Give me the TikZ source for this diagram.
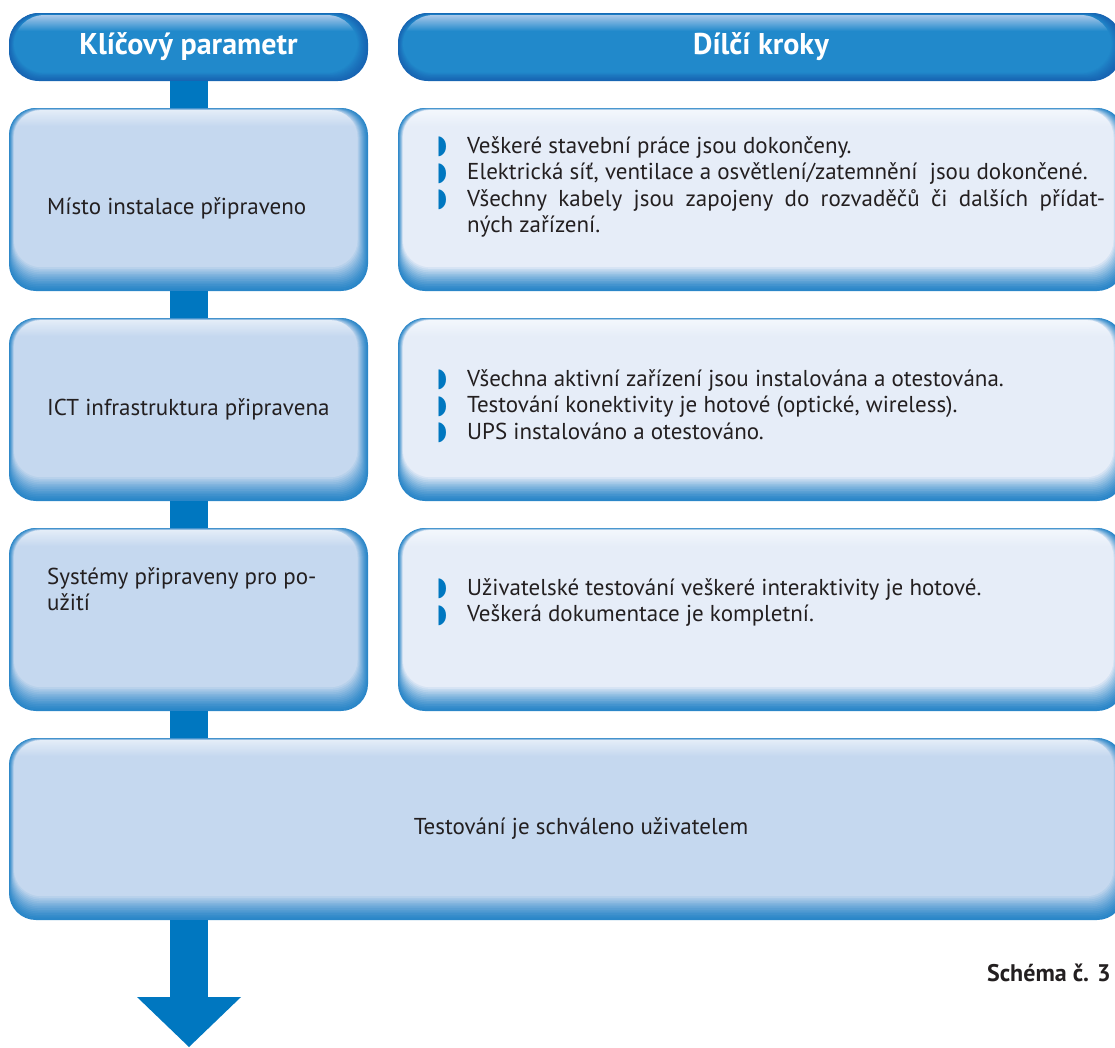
\documentclass[tikz,border=0pt]{standalone}
\usepackage{fontspec}
\usepackage{graphicx}
\setmainfont{PT Sans}
\newfontfamily\symfont{DejaVu Sans}
\setlength\parindent{0pt}
\definecolor{barblue}{HTML}{0077C0}
\definecolor{edgeblue}{HTML}{2A86C8}
\definecolor{lightA}{HTML}{C5D8EF}
\definecolor{lightB}{HTML}{E6EDF8}
\definecolor{hlA}{HTML}{E4EDF8}
\definecolor{hlB}{HTML}{F3F7FC}
\definecolor{hdbody}{HTML}{2189CB}
\definecolor{hddark}{HTML}{1765B3}
\definecolor{hdhl}{HTML}{A8C8EA}
\definecolor{txt}{HTML}{231F20}
\newcommand\bevbox[6]{%
  \foreach \i in {0,...,14}{%
    \pgfmathsetmacro\pp{100*(\i/14)^1.3}%
    \fill[#2!\pp!#3, rounded corners=#5]
      ([xshift={0.35pt*\i}, yshift={#4*\i}]#1.south west) rectangle
      ([xshift={-0.75pt*\i}, yshift={-0.15pt*\i}]#1.north east);
  }%
  \begin{scope}
    \clip[rounded corners=#5] ([xshift=4.9pt, yshift={#4*14}]#1.south west) rectangle ([xshift=-10.5pt, yshift=-2.1pt]#1.north east);
    \shade[top color=#6, bottom color=#2] ([yshift=-18pt]#1.north west) rectangle ([yshift=-2pt]#1.north east);
  \end{scope}
}
\newcommand\bul{\makebox[0pt][r]{\textcolor{barblue}{\symfont\raisebox{-0.5pt}{\scalebox{0.85}[1.12]{◗}}}\hspace{20pt}}}
\begin{document}
\begin{tikzpicture}[x=1pt, y=-1pt,
  boxn/.style={inner sep=0pt, outer sep=0pt, minimum height=#1},
  hdtext/.style={text=white, font=\fontsize{30}{34}\selectfont\bfseries},
  bodytext/.style={text=txt, font=\fontsize{23}{26.5}\selectfont, inner sep=0pt},
  bar/.style={draw=barblue, line width=38pt}]
\useasboundingbox (0,0) rectangle (1115,1047);
% box nodes
\node[boxn=68pt, minimum width=359pt] (h1) at (188.5,47) {};
\node[boxn=68pt, minimum width=724pt] (h2) at (760,47) {};
\node[boxn=183pt, minimum width=359pt] (l1) at (188.5,199.5) {};
\node[boxn=183pt, minimum width=726pt] (r1) at (761,199.5) {};
\node[boxn=183pt, minimum width=359pt] (l2) at (188.5,409.5) {};
\node[boxn=183pt, minimum width=726pt] (r2) at (761,409.5) {};
\node[boxn=183pt, minimum width=359pt] (l3) at (188.5,619.5) {};
\node[boxn=183pt, minimum width=726pt] (r3) at (761,619.5) {};
\node[boxn=182pt, minimum width=1115pt] (b4) at (566.5,829) {};
\coordinate (tip) at (189,1047);
% shapes
\bevbox{h1}{hdbody}{hddark}{0.6pt}{30pt}{hdhl}
\bevbox{h2}{hdbody}{hddark}{0.6pt}{30pt}{hdhl}
\bevbox{l1}{lightA}{edgeblue}{1.7pt}{27pt}{hlA}
\bevbox{r1}{lightB}{edgeblue}{1.7pt}{27pt}{hlB}
\bevbox{l2}{lightA}{edgeblue}{1.7pt}{27pt}{hlA}
\bevbox{r2}{lightB}{edgeblue}{1.7pt}{27pt}{hlB}
\bevbox{l3}{lightA}{edgeblue}{1.7pt}{27pt}{hlA}
\bevbox{r3}{lightB}{edgeblue}{1.7pt}{27pt}{hlB}
\bevbox{b4}{lightA}{edgeblue}{1.7pt}{27pt}{hlA}
% connectors
\draw[bar] (h1.south) -- (l1.north);
\draw[bar] (l1.south) -- (l2.north);
\draw[bar] (l2.south) -- (l3.north);
\draw[bar] (l3.south) -- (l3.south |- b4.north);
\draw[bar] (tip |- b4.south) -- ([yshift=49pt]tip);
\fill[barblue] ([xshift=-52pt,yshift=50pt]tip) -- ([xshift=52pt,yshift=50pt]tip) -- (tip) -- cycle;
% texts
\node[hdtext] (h1t) at (h1) {Klíčový parametr};
\node[hdtext] (h2t) at (761,47) {Dílčí kroky};
\node[bodytext, anchor=west] (l1t) at (47,208) {Místo instalace připraveno};
\node[bodytext, anchor=west] (l2t) at (47,409) {ICT infrastruktura připravena};
\node[bodytext, anchor=north west, align=left] (l3t) at (47,567) {Systémy připraveny pro po-\\užití};
\node[bodytext, anchor=center] (b4t) at (581,829) {Testování je schváleno uživatelem};
\node[bodytext, anchor=north west, text width=638pt, align=justify] (r1t) at (467,136) {%
\bul Veškeré stavební práce jsou dokončeny.\par
\bul Elektrická síť, ventilace a osvětlení/zatemnění~ jsou dokončené.\par
\bul Všechny kabely jsou zapojeny do rozvaděčů či dalších přídat-\linebreak ných zařízení.};
\node[bodytext, anchor=north west, text width=638pt, align=justify] (r2t) at (467,369) {%
\bul Všechna aktivní zařízení jsou instalována a otestována.\par
\bul Testování konektivity je hotové (optické, wireless).\par
\bul UPS instalováno a otestováno.};
\node[bodytext, anchor=north west, text width=638pt, align=justify] (r3t) at (467,578) {%
\bul Uživatelské testování veškeré interaktivity je hotové.\par
\bul Veškerá dokumentace je kompletní.};
\node[text=txt, font=\fontsize{24}{28}\selectfont\bfseries, anchor=east, inner sep=0pt] (cap) at (1111,973) {Schéma č. 3};
\end{tikzpicture}
\end{document}
